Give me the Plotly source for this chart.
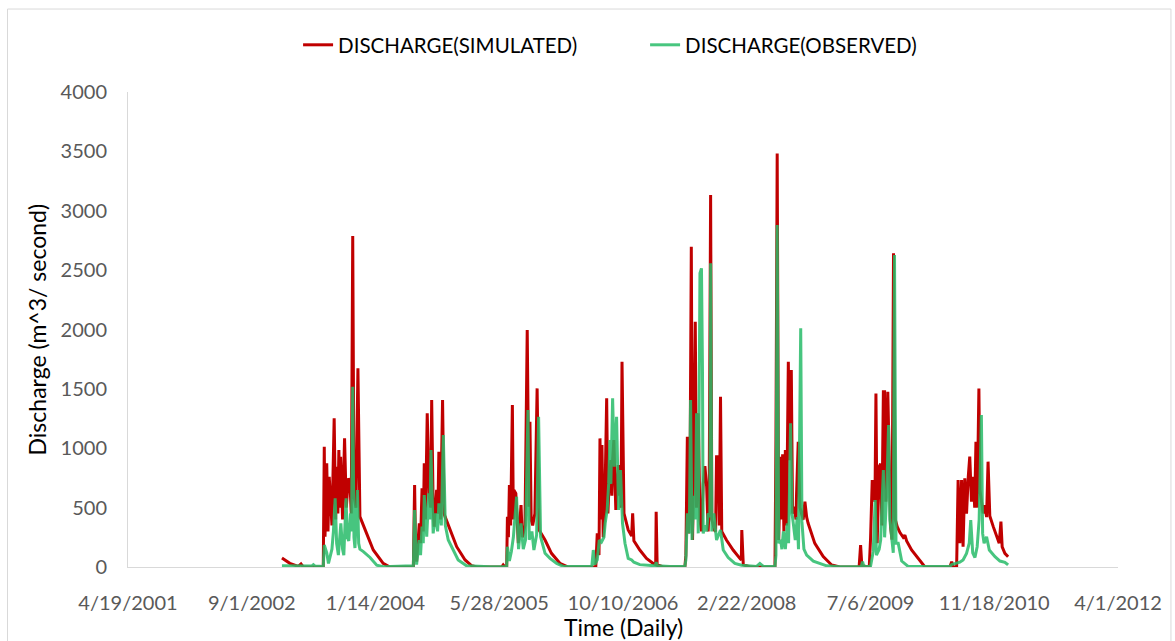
import pandas as pd
import plotly.graph_objects as go

# ---------------- data ----------------
record_start = "2003-01-01"   # first day of the daily record

# simulated discharge: day index from record_start, value (m^3/s)
sim_day = [
    0, 32, 66, 77, 86, 167, 171, 174, 181, 186, 191, 202, 211, 217, 221, 226, 230, 234, 237, 245, 253, 260, 268, 275, 280, 286, 291, 299, 307, 312, 315, 342, 369, 409, 436,
    531, 536, 540, 544, 555, 560, 566, 571, 575, 580, 587, 595, 601, 605, 611, 615, 625, 630, 634, 641, 649, 655, 659, 679, 706, 740, 767, 787,
    888, 894, 901, 908, 911, 915, 919, 924, 931, 935, 937, 945, 951, 955, 966, 971, 975, 982, 991, 998, 1002, 1007, 1013, 1022, 1031, 1039, 1063, 1089, 1123, 1157,
    1268, 1274, 1281, 1285, 1289, 1293, 1298, 1304, 1312, 1317, 1322, 1329, 1333, 1336, 1341, 1349, 1359, 1363, 1366, 1370, 1374, 1382, 1399, 1413, 1417, 1422, 1446, 1473, 1500, 1510, 1512, 1516, 1540,
    1628, 1632, 1638, 1643, 1648, 1654, 1659, 1664, 1670, 1675, 1682, 1689, 1695, 1702, 1709, 1716, 1722, 1726, 1732, 1737, 1747, 1752, 1756, 1763, 1767, 1772, 1777, 1796, 1823, 1850, 1856, 1858, 1864, 1891,
    1992, 1996, 2001, 2007, 2015, 2019, 2023, 2028, 2034, 2039, 2046, 2050, 2054, 2058, 2063, 2070, 2077, 2079, 2086, 2093, 2099, 2106, 2113, 2120, 2126, 2153, 2187, 2221, 2254,
    2332, 2338, 2343, 2373, 2378, 2385, 2392, 2396, 2400, 2405, 2413, 2419, 2424, 2430, 2435, 2440, 2448, 2454, 2459, 2465, 2471, 2478, 2486, 2497, 2510, 2517, 2524, 2544, 2571, 2598,
    2699, 2706, 2712, 2726, 2732, 2739, 2746, 2752, 2759, 2766, 2773, 2779, 2786, 2793, 2799, 2804, 2809, 2816, 2820, 2826, 2833, 2840, 2847, 2853, 2860, 2874, 2887, 2898, 2905, 2910, 2921, 2934,
]
sim_q = [
    75, 31, 5, 25, 0, 0, 1013, 255, 873, 300, 760, 350, 1252, 400, 845, 450, 985, 500, 929, 400, 1083, 500, 747, 700, 450, 2787, 600, 500, 1673, 450, 424, 283, 143, 31, 0,
    0, 690, 150, 45, 368, 200, 663, 300, 873, 400, 1294, 600, 500, 1406, 500, 340, 650, 450, 971, 400, 1406, 450, 424, 312, 171, 59, 10, 0,
    0, 17, 0, 0, 424, 250, 690, 350, 1364, 400, 648, 620, 300, 200, 522, 250, 283, 350, 1996, 508, 1224, 400, 350, 450, 1504, 311, 227, 115, 31, 0,
    0, 283, 100, 1083, 400, 1027, 250, 450, 1420, 450, 705, 900, 600, 900, 1069, 480, 859, 600, 850, 500, 1729, 452, 312, 260, 452, 220, 143, 73, 30, 20, 466, 20, 0,
    0, 100, 1097, 283, 452, 2697, 227, 900, 2066, 500, 1294, 400, 300, 700, 850, 676, 300, 500, 3132, 400, 311, 300, 929, 929, 350, 1434, 300, 227, 143, 73, 60, 312, 20, 0,
    0, 1069, 3483, 227, 929, 400, 950, 300, 985, 350, 1729, 900, 1600, 1659, 450, 508, 400, 600, 1055, 500, 452, 400, 550, 420, 368, 199, 87, 17, 0,
    0, 185, 10, 0, 227, 733, 600, 550, 1462, 200, 845, 870, 350, 1476, 1476, 550, 1476, 650, 340, 230, 2641, 400, 340, 290, 250, 269, 220, 143, 73, 0,
    0, 45, 0, 0, 733, 200, 733, 171, 747, 450, 760, 929, 550, 760, 500, 1055, 500, 1504, 650, 550, 452, 520, 420, 887, 430, 340, 255, 200, 382, 170, 115, 87,
]

# observed discharge
obs_day = [
    0, 120, 127, 134, 167, 171, 181, 188, 202, 208, 215, 221, 228, 238, 245, 250, 259, 264, 270, 277, 281, 286, 291, 295, 305, 310, 315, 329, 356, 383, 409,
    477, 531, 536, 544, 555, 560, 566, 571, 575, 585, 593, 598, 602, 611, 621, 629, 634, 644, 652, 660, 672, 692, 712, 746, 787,
    840, 908, 911, 919, 927, 935, 948, 956, 966, 975, 984, 994, 999, 1010, 1018, 1029, 1037, 1045, 1063, 1083, 1110, 1137,
    1204, 1252, 1258, 1264, 1274, 1282, 1291, 1301, 1306, 1314, 1320, 1325, 1329, 1336, 1343, 1352, 1360, 1368, 1376, 1386, 1399, 1413, 1422, 1446, 1508, 1512, 1516, 1540,
    1568, 1628, 1632, 1638, 1646, 1651, 1657, 1664, 1670, 1675, 1682, 1689, 1695, 1699, 1702, 1709, 1716, 1722, 1729, 1732, 1737, 1745, 1756, 1772, 1783, 1803, 1830, 1857, 1918, 1931, 1945,
    1992, 1996, 2001, 2007, 2015, 2020, 2026, 2034, 2042, 2047, 2055, 2061, 2066, 2074, 2082, 2087, 2096, 2101, 2109, 2120, 2147, 2201, 2254,
    2295, 2341, 2346, 2351, 2378, 2389, 2397, 2402, 2413, 2419, 2430, 2435, 2443, 2451, 2456, 2462, 2470, 2475, 2481, 2490, 2504, 2530,
    2658, 2699, 2706, 2726, 2739, 2752, 2766, 2777, 2783, 2791, 2800, 2809, 2817, 2826, 2831, 2837, 2847, 2858, 2867, 2881, 2901, 2921, 2934,
]
obs_q = [
    10, 8, 20, 8, 5, 185, 120, 30, 150, 300, 578, 200, 100, 368, 150, 100, 578, 250, 219, 452, 300, 1518, 250, 160, 648, 200, 150, 130, 80, 15, 3,
    10, 10, 480, 20, 227, 100, 340, 200, 606, 255, 620, 400, 985, 283, 452, 300, 536, 350, 1111, 350, 227, 143, 59, 10, 5,
    3, 5, 171, 50, 130, 250, 592, 150, 368, 150, 227, 1322, 230, 300, 143, 270, 1265, 255, 115, 73, 30, 5,
    5, 5, 143, 20, 60, 227, 210, 250, 368, 480, 700, 1069, 700, 1420, 845, 1265, 480, 817, 368, 200, 73, 60, 40, 20, 10, 40, 10, 5,
    5, 5, 60, 452, 283, 1406, 227, 600, 400, 1294, 283, 2473, 2515, 1686, 283, 350, 300, 452, 420, 2557, 300, 452, 227, 311, 143, 80, 30, 15, 5, 30, 5,
    5, 100, 2880, 200, 227, 150, 300, 150, 368, 200, 1210, 450, 368, 227, 420, 150, 2010, 380, 150, 100, 50, 10, 3,
    5, 5, 45, 5, 5, 129, 564, 100, 150, 227, 817, 250, 600, 1196, 400, 300, 120, 2627, 200, 200, 50, 5,
    5, 5, 20, 31, 40, 59, 115, 200, 396, 120, 80, 171, 400, 1280, 283, 200, 255, 143, 120, 87, 50, 40, 17,
]

assert len(sim_day) == len(sim_q), (len(sim_day), len(sim_q))
assert len(obs_day) == len(obs_q), (len(obs_day), len(obs_q))

# axis ticks (date axis, one tick every 500 days)
x_tick_dates = ["2001-04-19", "2002-09-01", "2004-01-14", "2005-05-28", "2006-10-10",
                "2008-02-22", "2009-07-06", "2010-11-18", "2012-04-01"]
x_tick_labels = ["4/19/2001", "9/1/2002", "1/14/2004", "5/28/2005", "10/10/2006",
                 "2/22/2008", "7/6/2009", "11/18/2010", "4/1/2012"]
y_ticks = [0, 500, 1000, 1500, 2000, 2500, 3000, 3500, 4000]

series_names = ["DISCHARGE(SIMULATED)", "DISCHARGE(OBSERVED)"]

# ---------------- figure ----------------
t0 = pd.Timestamp(record_start)
sim_dates = t0 + pd.to_timedelta(sim_day, unit="D")
obs_dates = t0 + pd.to_timedelta(obs_day, unit="D")

FONT = "Lato"
fig = go.Figure()
fig.add_trace(go.Scatter(x=sim_dates, y=sim_q, mode="lines", name=series_names[0],
                         line=dict(color="#C00000", width=3)))
fig.add_trace(go.Scatter(x=obs_dates, y=obs_q, mode="lines", name=series_names[1],
                         line=dict(color="rgb(40,188,105)", width=3), opacity=0.85))

fig.update_layout(
    width=1175, height=641,
    margin=dict(l=128, r=57, t=92, b=74),
    paper_bgcolor="white", plot_bgcolor="white",
    font=dict(family=FONT, color="#595959"),
    showlegend=True,
    legend=dict(orientation="h", x=0.1718, xanchor="left", y=1.099, yanchor="middle",
                font=dict(family=FONT, size=20.5, color="#000000"),
                entrywidth=302, entrywidthmode="pixels",
                bgcolor="rgba(0,0,0,0)"),
)
fig.update_xaxes(
    type="date", range=[x_tick_dates[0], x_tick_dates[-1]],
    tickmode="array", tickvals=x_tick_dates, ticktext=x_tick_labels,
    showgrid=False, zeroline=False, showline=True, linecolor="#D9D9D9", linewidth=1,
    ticks="", tickfont=dict(family=FONT, size=20, color="#595959"),
    ticklabelstandoff=18,
)
fig.update_yaxes(
    range=[0, 4000], tickmode="array", tickvals=y_ticks,
    showgrid=False, zeroline=False, showline=True, linecolor="#D9D9D9", linewidth=1,
    ticks="", tickfont=dict(family=FONT, size=20, color="#595959"),
    ticklabelstandoff=16,
)

# axis titles
fig.add_annotation(text="Time (Daily)", xref="paper", yref="paper", x=0.5, y=-0.126,
                   xanchor="center", yanchor="middle", showarrow=False,
                   font=dict(family=FONT, size=23, color="#000000"))
fig.add_annotation(text="Discharge (m^3/ second)", xref="paper", yref="paper", x=-0.092, y=0.5,
                   xanchor="center", yanchor="middle", textangle=-90, showarrow=False,
                   font=dict(family=FONT, size=23, color="#000000"))

# chart-area border
fig.add_shape(type="rect", xref="paper", yref="paper", x0=-0.1217, x1=1.0535, y0=-0.2, y1=1.1747,
              line=dict(color="#D9D9D9", width=1), fillcolor="rgba(0,0,0,0)", layer="below")

fig.write_html("out.html")
